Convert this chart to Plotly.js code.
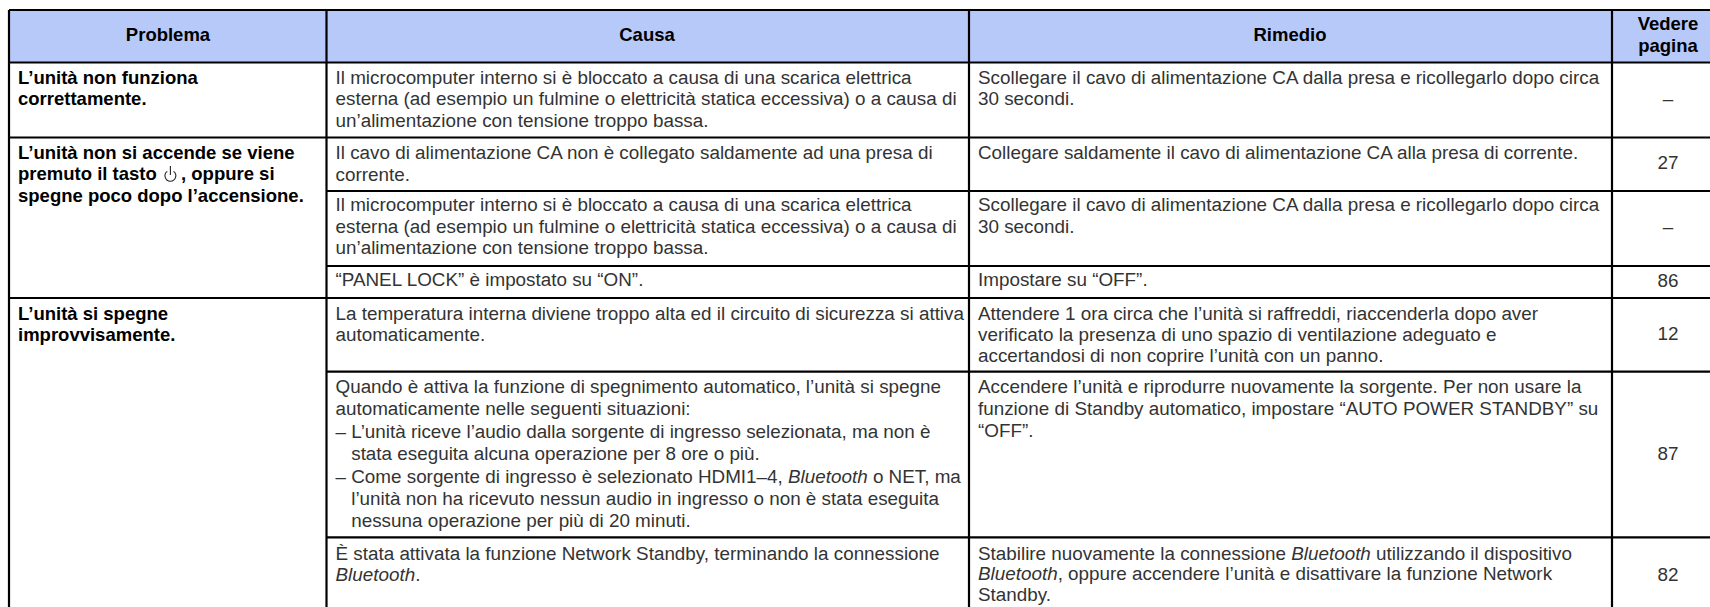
<!DOCTYPE html>
<html>
<head>
<meta charset="utf-8">
<script src="https://cdn.plot.ly/plotly-3.0.1.min.js"></script>
<style>html,body{margin:0;padding:0;background:#fff;overflow:hidden}#chart{width:1710px;height:607px}</style>
</head>
<body>
<div id="chart"></div>
<script>
// ---- table content ----
const headers = ["Problema", "Causa", "Rimedio", "Vedere<br>pagina"];
const problems = [
  ["L’unità non funziona", "correttamente."],
  ["L’unità non si accende se viene", "premuto il tasto", "spegne poco dopo l’accensione."],
  ["L’unità si spegne", "improvvisamente."]
];
const problemTail = ", oppure si";
const causes = [
  ["Il microcomputer interno si è bloccato a causa di una scarica elettrica", "esterna (ad esempio un fulmine o elettricità statica eccessiva) o a causa di", "un’alimentazione con tensione troppo bassa."],
  ["Il cavo di alimentazione CA non è collegato saldamente ad una presa di", "corrente."],
  ["Il microcomputer interno si è bloccato a causa di una scarica elettrica", "esterna (ad esempio un fulmine o elettricità statica eccessiva) o a causa di", "un’alimentazione con tensione troppo bassa."],
  ["“PANEL LOCK” è impostato su “ON”."],
  ["La temperatura interna diviene troppo alta ed il circuito di sicurezza si attiva", "automaticamente."],
  ["Quando è attiva la funzione di spegnimento automatico, l’unità si spegne", "automaticamente nelle seguenti situazioni:", "– L’unità riceve l’audio dalla sorgente di ingresso selezionata, ma non è", "\u00a0\u00a0\u00a0stata eseguita alcuna operazione per 8 ore o più.", "– Come sorgente di ingresso è selezionato HDMI1–4, <i>Bluetooth</i> o NET, ma", "\u00a0\u00a0\u00a0l’unità non ha ricevuto nessun audio in ingresso o non è stata eseguita", "\u00a0\u00a0\u00a0nessuna operazione per più di 20 minuti."],
  ["È stata attivata la funzione Network Standby, terminando la connessione", "<i>Bluetooth</i>."]
];
const remedies = [
  ["Scollegare il cavo di alimentazione CA dalla presa e ricollegarlo dopo circa", "30 secondi."],
  ["Collegare saldamente il cavo di alimentazione CA alla presa di corrente."],
  ["Scollegare il cavo di alimentazione CA dalla presa e ricollegarlo dopo circa", "30 secondi."],
  ["Impostare su “OFF”."],
  ["Attendere 1 ora circa che l’unità si raffreddi, riaccenderla dopo aver", "verificato la presenza di uno spazio di ventilazione adeguato e", "accertandosi di non coprire l’unità con un panno."],
  ["Accendere l’unità e riprodurre nuovamente la sorgente. Per non usare la", "funzione di Standby automatico, impostare “AUTO POWER STANDBY” su", "“OFF”."],
  ["Stabilire nuovamente la connessione <i>Bluetooth</i> utilizzando il dispositivo", "<i>Bluetooth</i>, oppure accendere l’unità e disattivare la funzione Network", "Standby."]
];
const pages = ["–", "27", "–", "86", "12", "87", "82"];

// ---- table geometry ----
const colEdges = [9, 326.5, 969, 1612, 1730];
const rowEdges = [10, 62.5, 137.5, 191, 266, 298, 371.7, 537.3, 620];
const rowFirstLine = [79, 154.3, 206.7, 281.7, 315, 388.3, 555];
const lineStep = [21.5, 21.5, 21.5, 21.5, 21, 22.4, 21];
const remedyStep = [21.5, 21.5, 21.5, 21.5, 21, 22, 20.5];
const pageY = [100, 164, 228, 282, 335, 455, 576];
const problemRows = [0, 1, 4];
const problemStep = 21.5;
const textPad = 9;
const lineW = 2.2;
const headerFill = "#b7c9f9";
const bodyColor = "#333333";
const font = "Liberation Sans, Arimo, Arial, sans-serif";
const bodySize = 18.85;
const boldSize = 18.5;

// ---- traces ----
const traces = [];
function addText(xs, ys, text, size, color, pos, name) {
  traces.push({type: "scatter", mode: "text", name, x: xs, y: ys, text,
    textposition: pos, cliponaxis: false, hoverinfo: "skip", showlegend: false,
    textfont: {family: font, size, color}});
}
function columnText(col, source, steps) {
  const xs = [], ys = [], t = [];
  source.forEach((lines, r) => lines.forEach((line, i) => {
    xs.push(colEdges[col] + textPad); ys.push(rowFirstLine[r] + i * steps[r]); t.push(line);
  }));
  addText(xs, ys, t, bodySize, bodyColor, "middle right", "col" + col);
}
// Header
const headerCx = [168, 647, 1290, 1668];
addText(headerCx.slice(0, 3), [36, 36, 36], headers.slice(0, 3).map(h => "<b>" + h + "</b>"), boldSize, "#000", "middle center", "header");
addText([headerCx[3], headerCx[3]], [25, 47], headers[3].split("<br>").map(s => "<b>" + s + "</b>"), boldSize, "#000", "middle center", "header2");
// Problem column
{
  const xs = [], ys = [], t = [];
  problems.forEach((lines, p) => lines.forEach((line, i) => {
    xs.push(colEdges[0] + textPad); ys.push(rowFirstLine[problemRows[p]] + i * problemStep); t.push("<b>" + line + "</b>");
  }));
  xs.push(181); ys.push(rowFirstLine[1] + problemStep); t.push("<b>" + problemTail + "</b>");
  addText(xs, ys, t, boldSize, "#000", "middle right", "problema");
}
columnText(1, causes, lineStep);
columnText(2, remedies, remedyStep);
addText(pages.map(() => headerCx[3]), pageY, pages, bodySize, bodyColor, "middle center", "pagina");

// ---- shapes ----
const shapes = [{type: "rect", xref: "x", yref: "y", x0: colEdges[0], x1: colEdges[4], y0: rowEdges[0], y1: rowEdges[1], fillcolor: headerFill, line: {width: 0}, layer: "below"}];
const ln = {color: "#000", width: lineW};
function seg(x0, y0, x1, y1) { shapes.push({type: "line", xref: "x", yref: "y", x0, y0, x1, y1, line: ln}); }
// horizontals (merged Problem cells skip inner rules)
seg(colEdges[0], rowEdges[0], colEdges[4], rowEdges[0]);
seg(colEdges[0], rowEdges[1], colEdges[4], rowEdges[1]);
seg(colEdges[0], rowEdges[2], colEdges[4], rowEdges[2]);
seg(colEdges[1], rowEdges[3], colEdges[4], rowEdges[3]);
seg(colEdges[1], rowEdges[4], colEdges[4], rowEdges[4]);
seg(colEdges[0], rowEdges[5], colEdges[4], rowEdges[5]);
seg(colEdges[1], rowEdges[6], colEdges[4], rowEdges[6]);
seg(colEdges[1], rowEdges[7], colEdges[4], rowEdges[7]);
for (let c = 0; c < 4; c++) seg(colEdges[c], rowEdges[0], colEdges[c], rowEdges[8]);
// power symbol in the Problem text
function arcPath(cx, cy, r, a0, a1, n) {
  const d = (a1 - a0) / n, k = 4 / 3 * Math.tan(d / 4);
  let p = "M " + (cx + r * Math.cos(a0)) + " " + (cy + r * Math.sin(a0));
  for (let i = 0; i < n; i++) {
    const s = a0 + i * d, e = s + d;
    p += " C " + (cx + r * (Math.cos(s) - k * Math.sin(s))) + " " + (cy + r * (Math.sin(s) + k * Math.cos(s))) +
         " " + (cx + r * (Math.cos(e) + k * Math.sin(e))) + " " + (cy + r * (Math.sin(e) - k * Math.cos(e))) +
         " " + (cx + r * Math.cos(e)) + " " + (cy + r * Math.sin(e));
  }
  return p;
}
const deg = Math.PI / 180;
shapes.push({type: "path", xref: "x", yref: "y", line: {color: "#222", width: 1.1},
  path: arcPath(170.4, 175.8, 5.4, -55 * deg, 235 * deg, 4) + " M 170.4 166 L 170.4 175"});

Plotly.newPlot("chart", traces, {
  width: 1710, height: 607, margin: {l: 0, r: 0, t: 0, b: 0},
  paper_bgcolor: "#fff", plot_bgcolor: "#fff", showlegend: false,
  xaxis: {range: [0, 1710], visible: false, fixedrange: true},
  yaxis: {range: [607, 0], visible: false, fixedrange: true},
  shapes
}, {displayModeBar: false, staticPlot: true});
</script>
</body>
</html>
